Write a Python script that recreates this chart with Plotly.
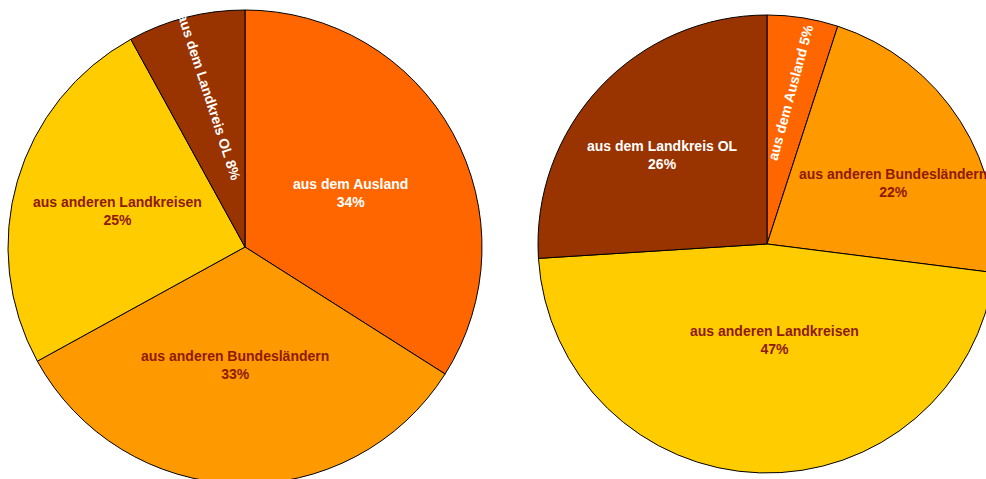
import math
import plotly.graph_objects as go

# Herkunft der Gäste: two years side by side
categories = ["aus dem Ausland", "aus anderen Bundesländern",
              "aus anderen Landkreisen", "aus dem Landkreis OL"]
share_left = [34, 33, 25, 8]
share_right = [5, 22, 47, 26]

slice_colors = ["#FF6600", "#FF9900", "#FFCC00", "#993300"]
label_colors = ["#FFFFFF", "#8E1A00", "#8E1A00", "#FFFFFF"]

# figure canvas (slightly larger than the visible window; right pie is cut off)
W, H = 1000, 490

# pie geometry in pixels: centre x, centre y (from top), radius
pies = [
    dict(values=share_left, cx=245, cy=247, r=237,
         # label placement: radius fraction, angle nudge (deg), rotation (None = horizontal)
         lab_r=[0.50, 0.50, 0.557, 0.65],
         lab_da=[1.6, 3.0, -0.4, 1.0],
         lab_rot=[None, None, None, 72],
         ),
    dict(values=share_right, cx=767, cy=244, r=229,
         lab_r=[0.67, 0.61, 0.42, 0.60],
         lab_da=[0.0, 6.6, -6.0, -3.0],
         lab_rot=[-75, None, None, None],
         ),
]

fig = go.Figure()
annotations = []
for p in pies:
    cx, cy, r = p["cx"], p["cy"], p["r"]
    fig.add_trace(go.Pie(
        labels=categories,
        values=p["values"],
        sort=False,
        direction="clockwise",
        rotation=0,
        textinfo="none",
        hoverinfo="label+percent",
        marker=dict(colors=slice_colors, line=dict(color="#000000", width=1)),
        domain=dict(x=[(cx - r) / W, (cx + r) / W],
                    y=[1 - (cy + r) / H, 1 - (cy - r) / H]),
        showlegend=False,
    ))

    total = sum(p["values"])
    cum = 0
    for i, v in enumerate(p["values"]):
        mid = (cum + v / 2) / total * 360 + p["lab_da"][i]
        cum += v
        dist = p["lab_r"][i] * r
        x = cx + dist * math.sin(math.radians(mid))
        y = cy - dist * math.cos(math.radians(mid))
        rot = p["lab_rot"][i]
        if rot is None:
            txt = f"{categories[i]}<br>{v}%"
            angle = 0
        else:
            txt = f"{categories[i]} {v}%"
            angle = rot
        annotations.append(dict(
            x=x / W, y=1 - y / H, xref="paper", yref="paper",
            text=txt, showarrow=False, textangle=angle,
            xanchor="center", yanchor="middle",
            font=dict(family="Liberation Sans, Arial, sans-serif", size=14,
                      color=label_colors[i], weight="bold"),
        ))

fig.update_layout(
    width=W, height=H,
    margin=dict(l=0, r=0, t=0, b=0),
    paper_bgcolor="#FFFFFF",
    plot_bgcolor="#FFFFFF",
    annotations=annotations,
)

fig.write_html(
    "out.html",
    config=dict(displayModeBar=False),
    post_script="document.body.style.margin='0';document.body.style.overflow='hidden';",
)
